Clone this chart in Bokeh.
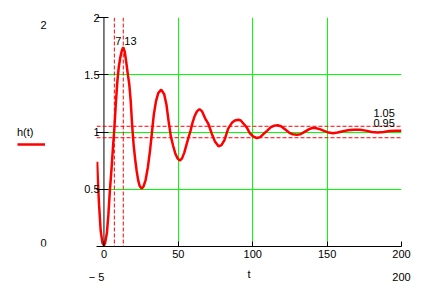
from bokeh.plotting import figure
from bokeh.layouts import row
from bokeh.models import (Range1d, Span, Label, FixedTicker, LinearAxis, Legend,
                          LegendItem)
from bokeh.embed import file_html
from bokeh.resources import INLINE

# data
t = [-4.6, -4.2, -3.3, -2.2, -1.0, 0.0, 0.8, 2, 3, 4, 5, 6, 7, 8, 9, 10, 11, 12, 13, 14,
     15, 16, 17, 18, 19, 20, 21, 22, 23, 24, 25.3, 26.5, 28, 29.5, 31, 32.3, 33.5, 35,
     36.5, 38.5, 40.5, 42, 43.5, 45, 46.5, 48, 49.5, 51, 52.5, 54, 55.5, 57, 58, 59.5,
     61, 62.5, 64.2, 66, 68, 70.2, 72.5, 74.5, 77, 79, 81, 83.5, 86, 88, 90.4, 92, 94,
     96, 98, 100, 102.8, 105, 107, 109.6, 112, 114.5, 116.7, 119, 121, 123, 125, 127,
     129.8, 132, 134, 136, 138, 140, 142, 145, 148, 151, 154, 157, 160, 164, 168, 172,
     176, 180, 184, 188, 192, 196, 200]
h = [0.74, 0.61, 0.37, 0.14, 0.03, 0.01, 0.03, 0.12, 0.28, 0.49, 0.66, 0.85, 1.03, 1.25,
     1.44, 1.57, 1.65, 1.71, 1.74, 1.70, 1.61, 1.51, 1.42, 1.27, 1.05, 0.88, 0.76, 0.66,
     0.58, 0.53, 0.505, 0.52, 0.58, 0.69, 0.84, 1.0, 1.15, 1.27, 1.34, 1.37, 1.33, 1.24,
     1.09, 0.96, 0.88, 0.81, 0.77, 0.75, 0.77, 0.82, 0.89, 0.96, 1.0, 1.08, 1.14, 1.18,
     1.20, 1.18, 1.12, 1.07, 0.985, 0.92, 0.875, 0.885, 0.93, 1.03, 1.08, 1.10, 1.107,
     1.10, 1.07, 1.04, 0.99, 0.965, 0.947, 0.955, 0.98, 1.01, 1.04, 1.055, 1.06, 1.05,
     1.03, 1.01, 0.99, 0.98, 0.976, 0.98, 0.995, 1.01, 1.025, 1.035, 1.035, 1.025, 1.01,
     0.995, 0.99, 0.995, 1.005, 1.015, 1.02, 1.02, 1.012, 1.0, 0.995, 1.0, 1.008, 1.01,
     1.01]
x_ticks = [0, 50, 100, 150, 200]
y_ticks = [0.5, 1, 1.5, 2]
x_grid = [50, 100, 150, 200]
y_grid = [0.5, 1, 1.5, 2]
t_markers = [7, 13]
h_markers = [1.05, 0.95]
x_limits = [-5, 200]
y_limits = [2, 0]

FONT = "Liberation Sans"
FS = "11px"
LEFT_W = 70

p = figure(width=430 - LEFT_W, height=294, output_backend="svg", toolbar_location=None,
           x_range=Range1d(-5, 200), y_range=Range1d(0, 2),
           min_border_left=96 - LEFT_W, min_border_right=29, min_border_top=17,
           min_border_bottom=48)
p.outline_line_color = None
p.background_fill_color = "white"
p.border_fill_color = "white"

p.xaxis.ticker = FixedTicker(ticks=x_ticks)
p.yaxis.ticker = FixedTicker(ticks=y_ticks)
for ax in (p.xaxis, p.yaxis):
    ax.axis_line_color = "black"
    ax.major_tick_line_color = "black"
    ax.minor_tick_line_color = None
    ax.major_label_text_font = FONT
    ax.major_label_text_font_size = FS
    ax.major_label_text_color = "black"
p.xaxis.major_tick_in = 5
p.xaxis.major_tick_out = 0
p.xaxis.major_label_standoff = 3
p.yaxis.axis_line_color = None
p.yaxis.major_tick_in = 12
p.yaxis.major_tick_out = 0
p.yaxis.major_label_standoff = -3
# y axis line at t = 0
p.add_layout(Span(location=0, dimension="height", line_color="black", line_width=1))

# x limits and axis name on one line under the x axis
lim_axis = LinearAxis(ticker=FixedTicker(ticks=x_limits),
                      major_label_overrides={-5: "\u2212 5", 200: "200"},
                      axis_line_color=None, major_tick_line_color=None,
                      minor_tick_line_color=None, major_label_standoff=4,
                      major_label_text_font=FONT, major_label_text_font_size=FS,
                      major_label_text_color="black",
                      axis_label="t", axis_label_standoff=-18,
                      axis_label_text_font=FONT, axis_label_text_font_size=FS,
                      axis_label_text_font_style="normal",
                      axis_label_text_color="black")
p.add_layout(lim_axis, "below")

p.xgrid.ticker = FixedTicker(ticks=x_grid)
p.ygrid.ticker = FixedTicker(ticks=y_grid)
for g in (p.xgrid, p.ygrid):
    g.grid_line_color = "#00ff00"
    g.grid_line_width = 1

for tm in t_markers:
    p.add_layout(Span(location=tm, dimension="height", line_color="red",
                      line_dash="4 2", line_width=1))
    p.add_layout(Label(x=tm, y=1.83, text=str(tm), text_baseline="top", x_offset=1,
                       text_font=FONT, text_font_size=FS, text_color="black"))
for hm in h_markers:
    p.add_layout(Span(location=hm, dimension="width", line_color="red",
                      line_dash="4 2", line_width=1))
p.add_layout(Label(x=195.5, y=1.135, text="1.05", text_align="right",
                   text_font=FONT, text_font_size=FS, text_color="black"))
p.add_layout(Label(x=195.5, y=1.044, text="0.95", text_align="right",
                   text_font=FONT, text_font_size=FS, text_color="black"))

p.line(t, h, line_color="red", line_width=2.5)

# left strip: y limits and the trace key; its frame is aligned with the main one,
# so its y range is given in pixels counted up from the bottom of the page
lf = figure(width=LEFT_W, height=294, output_backend="svg", toolbar_location=None,
            x_range=Range1d(0, LEFT_W), y_range=Range1d(48, 277),
            x_axis_location=None, y_axis_location=None,
            min_border_left=0, min_border_right=0, min_border_top=17,
            min_border_bottom=48)
lf.outline_line_color = None
lf.grid.visible = False
lf.background_fill_color = "white"
lf.border_fill_color = "white"
lf.add_layout(Label(x=43, y=269.3, text=str(y_limits[0]), text_align="center",
                    text_baseline="middle", text_font=FONT, text_font_size=FS,
                    text_color="black"))
lf.add_layout(Label(x=43, y=51.2, text=str(y_limits[1]), text_align="center",
                    text_baseline="middle", text_font=FONT, text_font_size=FS,
                    text_color="black"))
# the same trace, out of this strip's view; only its legend key is visible
key = lf.line(t, h, line_color="red", line_width=2.5)
leg = Legend(items=[LegendItem(label=" ", renderers=[key])], title="h(t)",
             location=(17, 98), glyph_width=28, glyph_height=8, label_height=8,
             label_standoff=0, padding=0, margin=0, spacing=0, title_standoff=2,
             border_line_color=None, background_fill_alpha=0,
             label_text_font=FONT, label_text_font_size=FS,
             title_text_font=FONT, title_text_font_size=FS,
             title_text_font_style="normal", title_text_color="black")
lf.add_layout(leg)

open("out.html", "w").write(file_html(row(lf, p), INLINE))
